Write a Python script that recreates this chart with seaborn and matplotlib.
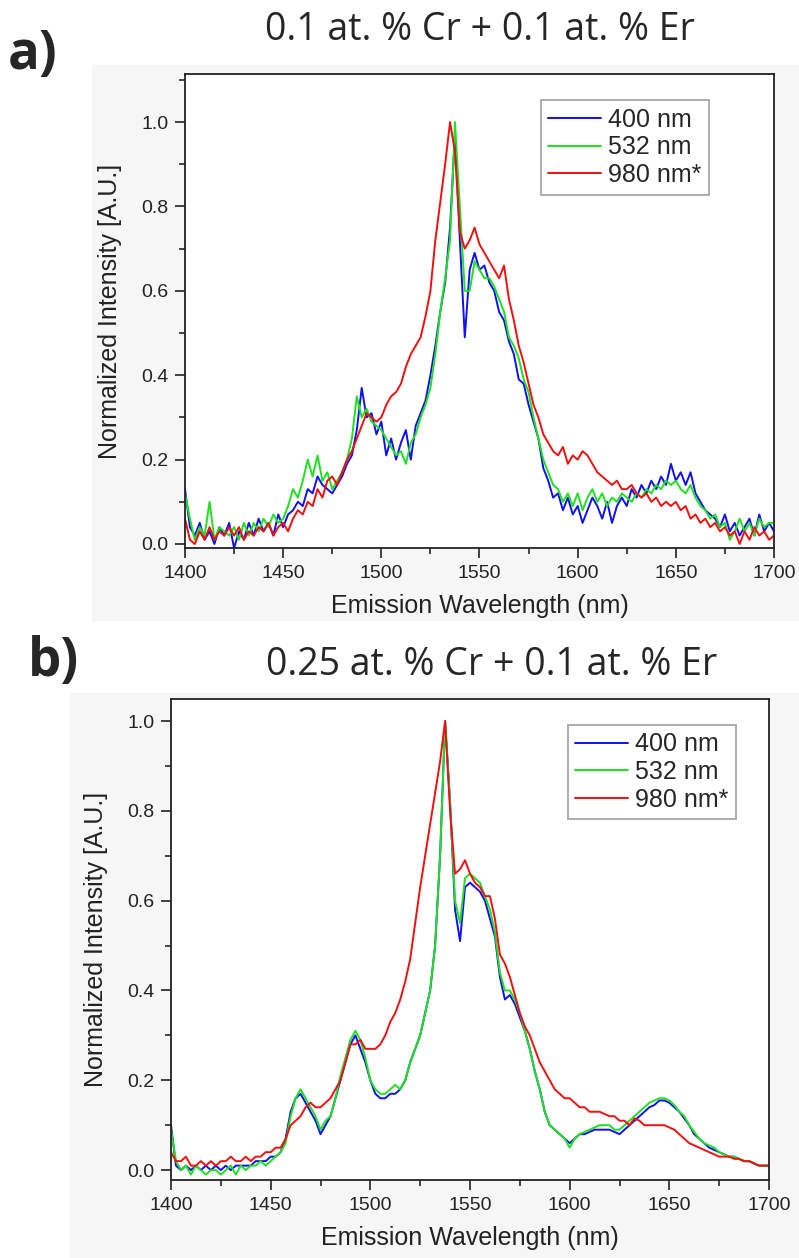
import numpy as np
import pandas as pd
import matplotlib
matplotlib.use("Agg")
import matplotlib.pyplot as plt
import seaborn as sns
from matplotlib.ticker import MultipleLocator, FormatStrFormatter
from matplotlib.patches import Rectangle

# wavelength grid (nm), 2.5 nm steps, 1400 -> 1700
wavelength = np.arange(1400, 1700.1, 2.5)
labels = ['400 nm', '532 nm', '980 nm*']

# panel a: 0.1 at.% Cr + 0.1 at.% Er (rows of 25 nm)
a_400 = [0.13, 0.04, 0.02, 0.05, 0.01, 0.03, 0.00, 0.04, 0.02, 0.05,
         -0.01, 0.03, 0.01, 0.05, 0.02, 0.06, 0.03, 0.05, 0.02, 0.07,
         0.04, 0.07, 0.08, 0.10, 0.09, 0.13, 0.12, 0.16, 0.14, 0.13,
         0.12, 0.14, 0.16, 0.19, 0.21, 0.27, 0.37, 0.30, 0.31, 0.26,
         0.29, 0.21, 0.25, 0.20, 0.24, 0.27, 0.20, 0.28, 0.31, 0.34,
         0.40, 0.47, 0.55, 0.62, 0.75, 0.97, 0.72, 0.49, 0.65, 0.69,
         0.65, 0.66, 0.62, 0.60, 0.55, 0.53, 0.48, 0.45, 0.39, 0.38,
         0.33, 0.29, 0.25, 0.18, 0.15, 0.11, 0.12, 0.08, 0.11, 0.07,
         0.09, 0.05, 0.08, 0.11, 0.09, 0.06, 0.10, 0.05, 0.09, 0.11,
         0.09, 0.13, 0.11, 0.14, 0.12, 0.15, 0.13, 0.16, 0.14, 0.19,
         0.15, 0.17, 0.14, 0.17, 0.12, 0.10, 0.08, 0.07, 0.06, 0.04,
         0.07, 0.03, 0.05, 0.02, 0.04, 0.06, 0.02, 0.07, 0.03, 0.05,
         0.03]
a_532 = [0.12, 0.06, 0.01, 0.04, 0.02, 0.10, 0.01, 0.04, 0.03, 0.02,
         0.04, 0.01, 0.05, 0.02, 0.05, 0.03, 0.06, 0.04, 0.07, 0.05,
         0.06, 0.09, 0.13, 0.11, 0.15, 0.20, 0.16, 0.21, 0.15, 0.17,
         0.13, 0.15, 0.17, 0.20, 0.25, 0.35, 0.30, 0.32, 0.29, 0.28,
         0.27, 0.25, 0.23, 0.21, 0.22, 0.19, 0.24, 0.26, 0.30, 0.33,
         0.37, 0.45, 0.55, 0.63, 0.72, 1.00, 0.80, 0.60, 0.60, 0.67,
         0.65, 0.63, 0.63, 0.61, 0.58, 0.55, 0.49, 0.47, 0.44, 0.39,
         0.36, 0.30, 0.25, 0.20, 0.17, 0.14, 0.13, 0.10, 0.12, 0.09,
         0.12, 0.08, 0.11, 0.13, 0.10, 0.12, 0.09, 0.11, 0.10, 0.12,
         0.11, 0.10, 0.12, 0.11, 0.13, 0.12, 0.14, 0.13, 0.15, 0.14,
         0.15, 0.13, 0.12, 0.14, 0.11, 0.09, 0.08, 0.06, 0.07, 0.04,
         0.05, 0.01, 0.03, 0.06, 0.03, 0.05, 0.02, 0.06, 0.04, 0.05,
         0.05]
a_980 = [0.06, 0.01, 0.00, 0.03, 0.01, 0.04, 0.01, 0.03, 0.02, 0.04,
         0.02, 0.04, 0.01, 0.03, 0.02, 0.04, 0.03, 0.05, 0.02, 0.04,
         0.05, 0.03, 0.06, 0.08, 0.07, 0.10, 0.09, 0.13, 0.11, 0.15,
         0.16, 0.14, 0.17, 0.20, 0.22, 0.25, 0.28, 0.31, 0.30, 0.29,
         0.30, 0.33, 0.35, 0.36, 0.38, 0.42, 0.45, 0.47, 0.49, 0.54,
         0.60, 0.72, 0.81, 0.90, 1.00, 0.93, 0.74, 0.70, 0.72, 0.75,
         0.71, 0.69, 0.67, 0.65, 0.63, 0.66, 0.58, 0.53, 0.47, 0.43,
         0.38, 0.33, 0.30, 0.26, 0.24, 0.22, 0.21, 0.23, 0.19, 0.21,
         0.20, 0.22, 0.21, 0.19, 0.17, 0.16, 0.15, 0.14, 0.15, 0.13,
         0.13, 0.14, 0.12, 0.11, 0.12, 0.10, 0.11, 0.09, 0.10, 0.09,
         0.10, 0.08, 0.09, 0.06, 0.07, 0.05, 0.06, 0.04, 0.05, 0.03,
         0.04, 0.02, 0.03, 0.00, 0.03, 0.01, 0.04, 0.02, 0.03, 0.01,
         0.02]

# panel b: 0.25 at.% Cr + 0.1 at.% Er
b_400 = [0.10, 0.01, 0.00, 0.01, 0.00, 0.01, 0.00, 0.01, 0.00, 0.01,
         0.00, 0.01, 0.00, 0.01, 0.01, 0.01, 0.01, 0.02, 0.02, 0.02,
         0.03, 0.03, 0.04, 0.07, 0.13, 0.16, 0.17, 0.15, 0.13, 0.11,
         0.08, 0.10, 0.12, 0.16, 0.20, 0.24, 0.28, 0.30, 0.27, 0.24,
         0.20, 0.17, 0.16, 0.16, 0.17, 0.17, 0.18, 0.20, 0.24, 0.27,
         0.30, 0.35, 0.40, 0.50, 0.70, 1.00, 0.82, 0.58, 0.51, 0.63,
         0.64, 0.63, 0.62, 0.60, 0.56, 0.52, 0.43, 0.38, 0.39, 0.37,
         0.34, 0.31, 0.27, 0.22, 0.18, 0.13, 0.10, 0.09, 0.08, 0.07,
         0.06, 0.07, 0.08, 0.08, 0.085, 0.09, 0.09, 0.09, 0.09, 0.085,
         0.08, 0.09, 0.10, 0.11, 0.12, 0.13, 0.14, 0.145, 0.155, 0.155,
         0.15, 0.14, 0.13, 0.115, 0.10, 0.08, 0.07, 0.06, 0.05, 0.045,
         0.04, 0.035, 0.03, 0.03, 0.025, 0.02, 0.02, 0.015, 0.01, 0.01,
         0.01]
b_532 = [0.09, 0.02, 0.00, 0.01, -0.01, 0.01, 0.00, -0.01, 0.00, 0.00,
         -0.01, 0.00, 0.01, -0.01, 0.01, 0.00, 0.01, 0.01, 0.02, 0.01,
         0.02, 0.03, 0.04, 0.06, 0.12, 0.16, 0.18, 0.16, 0.14, 0.12,
         0.09, 0.11, 0.12, 0.16, 0.21, 0.25, 0.29, 0.31, 0.29, 0.25,
         0.20, 0.18, 0.17, 0.17, 0.18, 0.19, 0.18, 0.20, 0.24, 0.27,
         0.30, 0.35, 0.40, 0.50, 0.70, 1.00, 0.82, 0.60, 0.55, 0.65,
         0.66, 0.65, 0.64, 0.61, 0.58, 0.53, 0.44, 0.40, 0.40, 0.38,
         0.35, 0.31, 0.27, 0.22, 0.18, 0.13, 0.10, 0.09, 0.08, 0.07,
         0.05, 0.07, 0.08, 0.085, 0.09, 0.095, 0.10, 0.10, 0.10, 0.09,
         0.09, 0.10, 0.11, 0.12, 0.13, 0.14, 0.15, 0.155, 0.16, 0.16,
         0.155, 0.145, 0.13, 0.12, 0.10, 0.085, 0.07, 0.06, 0.055, 0.05,
         0.04, 0.035, 0.03, 0.03, 0.025, 0.02, 0.02, 0.015, 0.01, 0.01,
         0.01]
b_980 = [0.04, 0.02, 0.02, 0.03, 0.01, 0.01, 0.02, 0.01, 0.02, 0.01,
         0.02, 0.02, 0.03, 0.02, 0.02, 0.03, 0.02, 0.03, 0.03, 0.04,
         0.04, 0.05, 0.05, 0.07, 0.10, 0.11, 0.12, 0.14, 0.15, 0.14,
         0.14, 0.15, 0.16, 0.18, 0.20, 0.24, 0.28, 0.28, 0.29, 0.27,
         0.27, 0.27, 0.28, 0.30, 0.33, 0.35, 0.38, 0.42, 0.47, 0.55,
         0.63, 0.70, 0.77, 0.84, 0.91, 1.00, 0.80, 0.66, 0.67, 0.69,
         0.66, 0.64, 0.63, 0.61, 0.61, 0.56, 0.48, 0.46, 0.43, 0.39,
         0.35, 0.32, 0.30, 0.27, 0.24, 0.22, 0.20, 0.18, 0.17, 0.16,
         0.16, 0.15, 0.14, 0.14, 0.13, 0.13, 0.13, 0.125, 0.12, 0.12,
         0.11, 0.11, 0.10, 0.115, 0.11, 0.10, 0.10, 0.10, 0.10, 0.10,
         0.095, 0.09, 0.08, 0.07, 0.06, 0.055, 0.05, 0.045, 0.04, 0.035,
         0.03, 0.03, 0.03, 0.025, 0.025, 0.02, 0.02, 0.015, 0.01, 0.01,
         0.01]

palette = {'400 nm': '#1010f0', '532 nm': '#20e020', '980 nm*': '#f01010'}


def to_long(series):
    frames = []
    for lab, vals in zip(labels, series):
        frames.append(pd.DataFrame({'wl': wavelength, 'I': vals, 'exc': lab}))
    return pd.concat(frames, ignore_index=True)


sns.set_style('ticks')
plt.rcParams['font.family'] = ['Liberation Sans', 'DejaVu Sans']

fig = plt.figure(figsize=(7.99, 12.58), dpi=100)

# faint grey backdrop behind each panel, as in the source image
fig.patches.append(Rectangle((92 / 799, 1 - 620 / 1258), 707 / 799, 555 / 1258,
                             transform=fig.transFigure, color='#f6f6f6', zorder=-5))
fig.patches.append(Rectangle((70 / 799, 0), 729 / 799, 1 - 693 / 1258,
                             transform=fig.transFigure, color='#f6f6f6', zorder=-5))

ax_a = fig.add_axes([185 / 799, 1 - 548 / 1258, 589 / 799, 474 / 1258])
ax_b = fig.add_axes([171 / 799, 1 - 1180 / 1258, 598 / 799, 481 / 1258])

panels = [
    (ax_a, [a_400, a_532, a_980], (-0.0095, 1.114), (0.8896, 0.9451)),
    (ax_b, [b_400, b_532, b_980], (-0.022, 1.049), (0.9448, 0.946)),
]

for ax, series, ylim, leg_pos in panels:
    df = to_long(series)
    sns.lineplot(data=df, x='wl', y='I', hue='exc', palette=palette,
                 estimator=None, sort=False, linewidth=1.4, ax=ax)
    ax.set_facecolor('white')
    ax.set_xlim(1400, 1700)
    ax.set_ylim(*ylim)
    ax.xaxis.set_major_locator(MultipleLocator(50))
    ax.xaxis.set_minor_locator(MultipleLocator(25))
    ax.yaxis.set_major_locator(MultipleLocator(0.2))
    ax.yaxis.set_minor_locator(MultipleLocator(0.1))
    ax.yaxis.set_major_formatter(FormatStrFormatter('%.1f'))
    ax.tick_params(which='major', direction='out', length=7, width=1.2,
                   labelsize=14, colors='#222222', pad=5)
    ax.tick_params(which='minor', direction='out', length=4, width=1.2)
    for sp in ax.spines.values():
        sp.set_linewidth(1.3)
        sp.set_color('#222222')
        sp.set_visible(True)
    ax.set_xlabel('Emission Wavelength (nm)', fontsize=18, color='#222222', labelpad=9)
    ax.set_ylabel('Normalized Intensity [A.U.]', fontsize=18, color='#222222', labelpad=14)
    leg = ax.legend(title=None, loc='upper right', bbox_to_anchor=leg_pos,
                    borderaxespad=0, fontsize=18, frameon=True, fancybox=False,
                    handlelength=2.1, handletextpad=0.3, borderpad=0.3,
                    labelspacing=0.15)
    leg.get_frame().set_edgecolor('#888888')
    leg.get_frame().set_linewidth(1.2)

title_font = ['Open Sans', 'DejaVu Sans']
fig.text(8 / 799, 1 - 55 / 1258, 'a)', fontsize=38, fontweight='bold',
         family=title_font, va='center', ha='left')
fig.text(480 / 799, 1 - 30 / 1258, '0.1 at. % Cr + 0.1 at. % Er', fontsize=27,
         family=title_font, va='center', ha='center')
fig.text(28 / 799, 1 - 662 / 1258, 'b)', fontsize=38, fontweight='bold',
         family=title_font, va='center', ha='left')
fig.text(492 / 799, 1 - 665 / 1258, '0.25 at. % Cr + 0.1 at. % Er', fontsize=27,
         family=title_font, va='center', ha='center')

fig.savefig('out.png', dpi=100, facecolor='white')
